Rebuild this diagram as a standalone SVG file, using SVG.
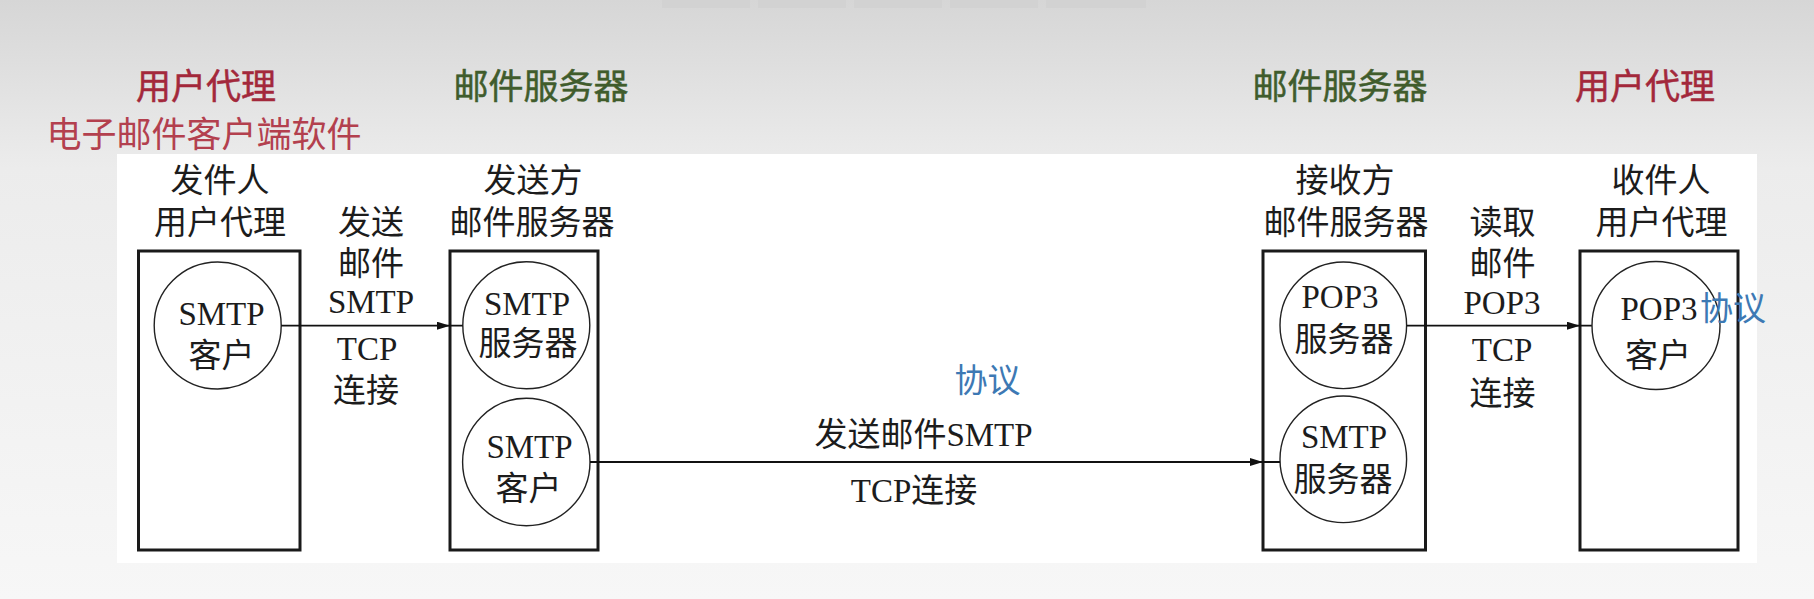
<svg xmlns="http://www.w3.org/2000/svg" width="1814" height="599" viewBox="0 0 1814 599">
  <defs>
    <linearGradient id="bg" x1="0" y1="0" x2="0" y2="1">
      <stop offset="0" stop-color="#d6d6d6"/>
      <stop offset="0.28" stop-color="#ececec"/>
      <stop offset="1" stop-color="#f7f7f7"/>
    </linearGradient>
    <marker id="arr" markerWidth="14" markerHeight="9" refX="13" refY="4" orient="auto" markerUnits="userSpaceOnUse">
      <path d="M0,0 L13,4 L0,8 z" fill="#111"/>
    </marker>
    <style>
      .box { fill: none; stroke: #1a1a1a; stroke-width: 3; }
      .circ { fill: #fff; stroke: #222; stroke-width: 1.4; }
      .t { font-family: "Liberation Serif", "Noto Sans CJK SC", serif; font-size: 33px; fill: #1c1c1c; text-anchor: middle; }
      .title { font-family: "Noto Sans CJK SC", sans-serif; font-size: 35px; text-anchor: middle; }
      .red { fill: #a3283b; stroke: #a3283b; stroke-width: 0.5; }
      .red2 { fill: #b3404e; }
      .green { fill: #405c2c; stroke: #405c2c; stroke-width: 0.5; }
      .blue { font-family: "Noto Sans CJK SC", sans-serif; font-size: 33px; fill: #3d79b4; }
      .conn { stroke: #111; stroke-width: 1.8; fill: none; marker-mid: url(#arr); }
    </style>
  </defs>

  <rect x="0" y="0" width="1814" height="599" fill="url(#bg)"/>
  <g fill="#cfcfcf" opacity="0.55">
    <rect x="662" y="0" width="88" height="8"/>
    <rect x="758" y="0" width="88" height="8"/>
    <rect x="854" y="0" width="88" height="8"/>
    <rect x="950" y="0" width="88" height="8"/>
    <rect x="1046" y="0" width="100" height="8"/>
  </g>
  <rect x="117" y="154" width="1640" height="409" fill="#ffffff"/>

  <g id="titles">
    <text class="title red" x="206" y="99">用户代理</text>
    <text class="title red2" x="204" y="147">电子邮件客户端软件</text>
    <text class="title green" x="541" y="99">邮件服务器</text>
    <text class="title green" x="1340" y="99">邮件服务器</text>
    <text class="title red" x="1645" y="99">用户代理</text>
  </g>

  <g id="sender-ua">
    <text class="t" x="220" y="192">发件人</text>
    <text class="t" x="220" y="234">用户代理</text>
    <rect class="box" x="138.5" y="251" width="161.5" height="299"/>
    <circle class="circ" cx="217.7" cy="325.5" r="63.5"/>
    <text class="t" x="221.5" y="325">SMTP</text>
    <text class="t" x="221.5" y="367">客户</text>
  </g>

  <g id="sender-server">
    <text class="t" x="533" y="192">发送方</text>
    <text class="t" x="532" y="234">邮件服务器</text>
    <rect class="box" x="450" y="251" width="148" height="299"/>
    <circle class="circ" cx="526.3" cy="325.3" r="63.5"/>
    <text class="t" x="527" y="315">SMTP</text>
    <text class="t" x="528" y="355">服务器</text>
    <circle class="circ" cx="526.3" cy="462" r="63.7"/>
    <text class="t" x="529.5" y="458">SMTP</text>
    <text class="t" x="528.5" y="500">客户</text>
  </g>

  <g id="receiver-server">
    <text class="t" x="1345" y="192">接收方</text>
    <text class="t" x="1346" y="234">邮件服务器</text>
    <rect class="box" x="1263" y="251" width="162.5" height="299"/>
    <circle class="circ" cx="1343.3" cy="325.3" r="63.3"/>
    <text class="t" x="1340" y="308">POP3</text>
    <text class="t" x="1344" y="351">服务器</text>
    <circle class="circ" cx="1343.3" cy="459.3" r="63.3"/>
    <text class="t" x="1344" y="448">SMTP</text>
    <text class="t" x="1343" y="491">服务器</text>
  </g>

  <g id="receiver-ua">
    <text class="t" x="1661" y="192">收件人</text>
    <text class="t" x="1661.5" y="234">用户代理</text>
    <rect class="box" x="1580" y="251" width="158" height="299"/>
    <circle class="circ" cx="1656" cy="325.5" r="64"/>
    <text class="t" x="1659" y="320">POP3</text>
    <text class="t" x="1658" y="367">客户</text>
    <text class="blue" x="1700" y="320">协议</text>
  </g>

  <g id="connectors">
    <path class="conn" d="M281.2,325.7 L450,325.7 L462.7,325.7"/>
    <path class="conn" d="M590,462 L1263,462 L1280,462"/>
    <path class="conn" d="M1406.7,325.7 L1580,325.7 L1591.8,325.7"/>
  </g>

  <g id="labels">
    <text class="t" x="371" y="234">发送</text>
    <text class="t" x="371" y="275">邮件</text>
    <text class="t" x="371" y="313">SMTP</text>
    <text class="t" x="367" y="360">TCP</text>
    <text class="t" x="366" y="402">连接</text>

    <text class="t" x="1502.5" y="234">读取</text>
    <text class="t" x="1502.5" y="275">邮件</text>
    <text class="t" x="1502" y="314">POP3</text>
    <text class="t" x="1502" y="361">TCP</text>
    <text class="t" x="1502.5" y="405">连接</text>

    <text class="blue" x="987.5" y="392" text-anchor="middle">协议</text>
    <text class="t" x="923.5" y="446">发送邮件SMTP</text>
    <text class="t" x="914" y="502">TCP连接</text>
  </g>
</svg>
